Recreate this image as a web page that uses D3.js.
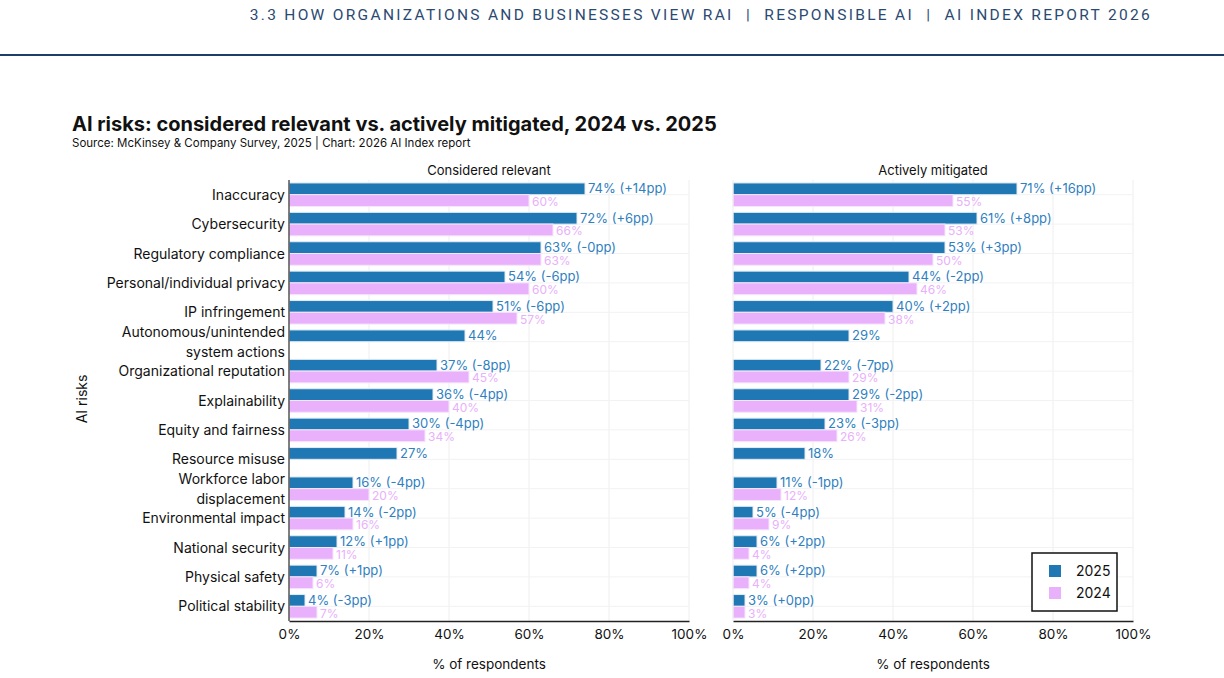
<!DOCTYPE html>
<html>
<head>
<meta charset="utf-8">
<script src="https://cdn.jsdelivr.net/npm/d3@7"></script>
<style>
  body { margin: 0; background: #fff; }
  svg { font-family: Inter, "Noto Sans", sans-serif; }
</style>
</head>
<body>
<svg id="chart" width="1224" height="678"></svg>
<script>
// categories, top to bottom
const categories = [
	"Inaccuracy",
	"Cybersecurity",
	"Regulatory compliance",
	"Personal/individual privacy",
	"IP infringement",
	"Autonomous/unintended system actions",
	"Organizational reputation",
	"Explainability",
	"Equity and fairness",
	"Resource misuse",
	"Workforce labor displacement",
	"Environmental impact",
	"National security",
	"Physical safety",
	"Political stability",
];

// % of respondents
const relevant2025 = [74, 72, 63, 54, 51, 44, 37, 36, 30, 27, 16, 14, 12, 7, 4];
const relevant2024 = [60, 66, 63, 60, 57, null, 45, 40, 34, null, 20, 16, 11, 6, 7];
const relevantChange = ["+14", "+6", "-0", "-6", "-6", null, "-8", "-4", "-4", null, "-4", "-2", "+1", "+1", "-3"];

const mitigated2025 = [71, 61, 53, 44, 40, 29, 22, 29, 23, 18, 11, 5, 6, 6, 3];
const mitigated2024 = [55, 53, 50, 46, 38, null, 29, 31, 26, null, 12, 9, 4, 4, 3];
const mitigatedChange = ["+16", "+8", "+3", "-2", "+2", null, "-7", "-2", "-3", null, "-1", "-4", "+2", "+2", "+0"];

const xTicks = [0, 20, 40, 60, 80, 100];
const years = ["2025", "2024"];

const blue = "#1f77b4",
	pink = "#e9b0fb",
	blueText = "#2f7fc1";

const svg = d3.select("#chart");

// page header
svg.append("text")
	.attr("x", 1152)
	.attr("y", 20)
	.attr("text-anchor", "end")
	.attr("fill", "#2b4a72")
	.attr("xml:space", "preserve")
	.style("font-family", "Roboto, sans-serif")
	.style("font-size", "15.5px")
	.style("letter-spacing", "2.3px")
	.text("3.3 HOW ORGANIZATIONS AND BUSINESSES VIEW RAI  |  RESPONSIBLE AI  |  AI INDEX REPORT 2026");

svg.append("rect")
	.attr("x", 0)
	.attr("y", 54)
	.attr("width", 1224)
	.attr("height", 2)
	.attr("fill", "#1d3d6b");

svg.append("text")
	.attr("x", 72)
	.attr("y", 131)
	.attr("font-weight", 700)
	.style("font-size", "20px")
	.attr("fill", "#111")
	.text("AI risks: considered relevant vs. actively mitigated, 2024 vs. 2025");

svg.append("text")
	.attr("x", 72)
	.attr("y", 147)
	.style("font-size", "11.5px")
	.attr("fill", "#111")
	.text("Source: McKinsey & Company Survey, 2025 | Chart: 2026 AI Index report");

const y = d3.scaleBand()
	.domain(categories)
	.range([180, 621])
	.paddingInner(0.2)
	.paddingOuter(0.1);

const sub = d3.scaleBand().domain(years).range([0, y.bandwidth()]);

function panel(x0, title, v2025, v2024, change, drawYAxis) {
	const x = d3.scaleLinear().domain([0, 100]).range([x0, x0 + 400]);
	const g = svg.append("g");

	// grid
	g.selectAll("line.vg")
		.data(xTicks.slice(1))
		.join("line")
		.attr("x1", (d) => x(d))
		.attr("x2", (d) => x(d))
		.attr("y1", 180)
		.attr("y2", 621)
		.attr("stroke", "#eeeeee");
	g.selectAll("line.hg")
		.data(categories)
		.join("line")
		.attr("x1", x(0))
		.attr("x2", x(100))
		.attr("y1", (d) => y(d) + y.bandwidth() / 2)
		.attr("y2", (d) => y(d) + y.bandwidth() / 2)
		.attr("stroke", "#f2f2f2");

	const rows = categories.map((c, i) => ({ c, a: v2025[i], b: v2024[i], ch: change[i] }));

	g.selectAll("rect.b25")
		.data(rows)
		.join("rect")
		.attr("x", x(0))
		.attr("y", (d) => y(d.c) + sub("2025"))
		.attr("width", (d) => x(d.a) - x(0))
		.attr("height", sub.bandwidth())
		.attr("fill", blue)
		.attr("stroke", "#e3ecf6")
		.attr("stroke-width", 1);

	g.selectAll("rect.b24")
		.data(rows.filter((d) => d.b != null))
		.join("rect")
		.attr("x", x(0))
		.attr("y", (d) => y(d.c) + sub("2024"))
		.attr("width", (d) => x(d.b) - x(0))
		.attr("height", sub.bandwidth())
		.attr("fill", pink)
		.attr("stroke", "#f6e6fb")
		.attr("stroke-width", 1);

	g.selectAll("text.l25")
		.data(rows)
		.join("text")
		.attr("x", (d) => x(d.a) + 3)
		.attr("y", (d) => y(d.c) + sub("2025") + sub.bandwidth() / 2)
		.attr("dy", "0.33em")
		.attr("fill", blueText)
		.style("font-size", "13px")
		.text((d) => (d.ch == null ? `${d.a}%` : `${d.a}% (${d.ch}pp)`));

	g.selectAll("text.l24")
		.data(rows.filter((d) => d.b != null))
		.join("text")
		.attr("x", (d) => x(d.b) + 3)
		.attr("y", (d) => y(d.c) + sub("2024") + sub.bandwidth() / 2)
		.attr("dy", "0.45em")
		.attr("fill", pink)
		.style("font-size", "12px")
		.text((d) => `${d.b}%`);

	// x axis
	const xa = g.append("g")
		.attr("transform", "translate(0,621)")
		.call(d3.axisBottom(x).tickValues(xTicks).tickFormat((d) => d + "%").tickSize(0).tickPadding(8));
	xa.select(".domain").attr("stroke", "#222").attr("stroke-width", 1.5);
	xa.selectAll("text").style("font-size", "13.5px").attr("fill", "#111").style("font-family", "Inter, sans-serif");

	g.append("line")
		.attr("x1", x(0))
		.attr("x2", x(0))
		.attr("y1", 180)
		.attr("y2", 621)
		.attr("stroke", drawYAxis ? "#555" : "#eeeeee")
		.attr("stroke-width", drawYAxis ? 1.5 : 1);

	g.append("text")
		.attr("x", x(50))
		.attr("y", 175)
		.attr("text-anchor", "middle")
		.style("font-size", "13px")
		.attr("fill", "#111")
		.text(title);

	g.append("text")
		.attr("x", x(50))
		.attr("y", 669)
		.attr("text-anchor", "middle")
		.style("font-size", "13.5px")
		.attr("fill", "#111")
		.text("% of respondents");
}

panel(289, "Considered relevant", relevant2025, relevant2024, relevantChange, true);
panel(733, "Actively mitigated", mitigated2025, mitigated2024, mitigatedChange, false);

// y labels (wrapped where long)
const wrap = {
	"Autonomous/unintended system actions": ["Autonomous/unintended", "system actions"],
	"Workforce labor displacement": ["Workforce labor", "displacement"],
};
const ylab = svg.append("g").style("font-size", "14px").attr("fill", "#111");
categories.forEach((c) => {
	const lines = wrap[c] || [c];
	const cy = y(c) + y.bandwidth() / 2;
	const t = ylab.append("text").attr("text-anchor", "end");
	lines.forEach((ln, i) => {
		t.append("tspan")
			.attr("x", 285)
			.attr("y", cy + (i - (lines.length - 1) / 2) * 20)
			.attr("dy", "0.36em")
			.text(ln);
	});
});

svg.append("text")
	.attr("transform", "translate(87,399) rotate(-90)")
	.attr("text-anchor", "middle")
	.style("font-size", "14px")
	.attr("fill", "#111")
	.text("AI risks");

// legend
const lg = svg.append("g").attr("transform", "translate(1032,553)");
lg.append("rect")
	.attr("width", 85)
	.attr("height", 58)
	.attr("fill", "#fff")
	.attr("stroke", "#111")
	.attr("stroke-width", 1.5);
const color = d3.scaleOrdinal().domain(years).range([blue, pink]);
years.forEach((yr, i) => {
	lg.append("rect")
		.attr("x", 17)
		.attr("y", 12 + i * 22)
		.attr("width", 12)
		.attr("height", 12)
		.attr("fill", color(yr));
	lg.append("text")
		.attr("x", 44)
		.attr("y", 18 + i * 22)
		.attr("dy", "0.36em")
		.style("font-size", "14px")
		.attr("fill", "#111")
		.text(yr);
});
</script>
</body>
</html>
